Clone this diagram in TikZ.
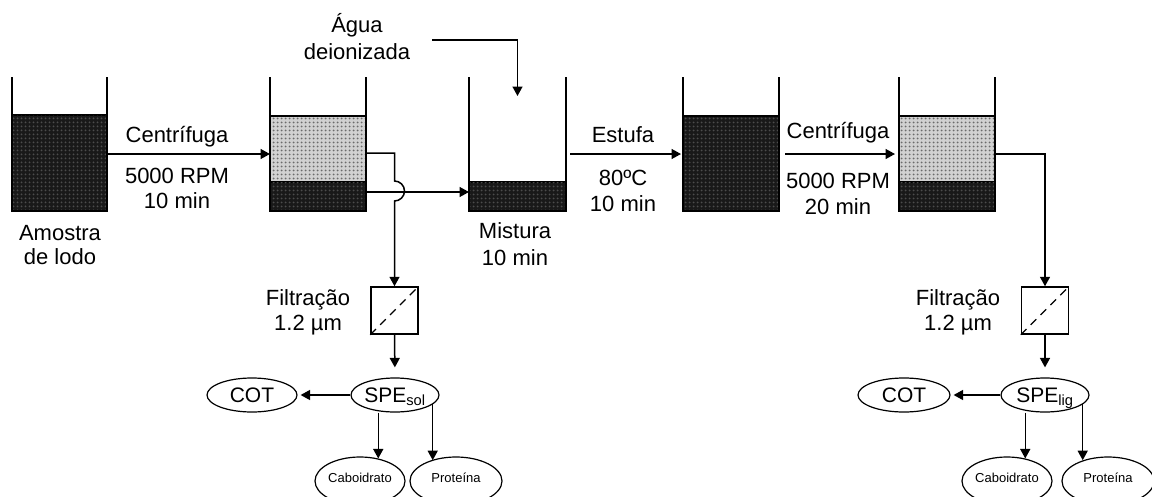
\documentclass[tikz,border=0pt]{standalone}
\usepackage{fontspec}
\setmainfont{Liberation Sans}
\usetikzlibrary{arrows.meta,patterns.meta,shapes.geometric}
\tikzdeclarepattern{name=bigdots, type=uncolored,
  bottom left={(-0.5pt,-0.5pt)}, top right={(3.5pt,3.5pt)},
  tile size={(4pt,4pt)},
  code={\fill (1.5pt,1.5pt) circle (1pt);}}
\begin{document}
\begin{tikzpicture}[x=1pt,y=-1pt,
  lbl/.style={anchor=base, inner sep=0pt, font=\fontsize{22}{26}\selectfont},
  box/.style={rectangle, inner sep=0pt, outer sep=0pt},
  darkfill/.style={box, draw, line width=1.5pt, fill=black!90, postaction={pattern=bigdots, pattern color=black!70}},
  lightfill/.style={box, draw, line width=1.5pt, fill=black!18, postaction={pattern=bigdots, pattern color=black!58}},
  beaker/.style={box, minimum height=134pt},
  wall/.style={line width=1.5pt},
  arr/.style={line width=1.5pt, -{Triangle[length=9.5pt,width=10pt]}},
  filterbox/.style={rectangle, draw, line width=1.5pt, minimum width=47pt, minimum height=47pt, inner sep=0pt},
  bigell/.style={ellipse, draw, line width=1.2pt, inner sep=0pt, minimum height=34pt, text height=15pt, text depth=1pt, font=\fontsize{21}{24}\selectfont},
  smallell/.style={ellipse, draw, line width=1.2pt, inner sep=0pt, minimum height=48pt, text height=10pt, text depth=8pt, font=\fontsize{13}{15}\selectfont},
]
\useasboundingbox (0,0) rectangle (1152,496);

% beaker frames (invisible)
\node[beaker, minimum width=95pt] (w1) at (59.5,144) {};
\node[beaker, minimum width=96pt] (w2) at (318,144) {};
\node[beaker, minimum width=97pt] (w3) at (517.5,144) {};
\node[beaker, minimum width=96pt] (w4) at (731,144) {};
\node[beaker, minimum width=96pt] (w5) at (947,144) {};

% contents
\node[darkfill, minimum width=95pt, minimum height=96pt] (b1d) at (59.5,163) {};
\node[lightfill, minimum width=96pt, minimum height=66pt] (b2l) at (318,149) {};
\node[darkfill, minimum width=96pt, minimum height=29pt] (b2d) at (318,196.5) {};
\node[darkfill, minimum width=97pt, minimum height=29pt] (b3d) at (517.5,196.5) {};
\node[darkfill, minimum width=96pt, minimum height=95pt] (b4d) at (731,163.5) {};
\node[lightfill, minimum width=96pt, minimum height=66pt] (b5l) at (947,149) {};
\node[darkfill, minimum width=96pt, minimum height=29pt] (b5d) at (947,196.5) {};

% walls
\foreach \w in {w1,w2,w3,w4,w5}{
  \draw[wall] (\w.north west) -- (\w.south west) -- (\w.south east) -- (\w.north east);
}

% labels
\node[lbl] (t1) at (177,142) {Centrífuga};
\node[lbl] (t2) at (177,183) {5000 RPM};
\node[lbl] (t3) at (177,208) {10 min};
\node[lbl] (t4) at (60,240) {Amostra};
\node[lbl] (t5) at (60,264) {de lodo};
\node[lbl] (agua1) at (357,32) {Água};
\node[lbl] (agua2) at (357,59) {deionizada};
\node[lbl] (t6) at (515,238) {Mistura};
\node[lbl] (t7) at (515,265) {10 min};
\node[lbl] (t8) at (623,142) {Estufa};
\node[lbl] (t9) at (623,185) {80ºC};
\node[lbl] (t10) at (623,211) {10 min};
\node[lbl] (t11) at (838,138) {Centrífuga};
\node[lbl] (t12) at (838,188) {5000 RPM};
\node[lbl] (t13) at (838,214) {20 min};
\node[lbl] (t14) at (308,305) {Filtração};
\node[lbl] (t15) at (308,330) {1.2 µm};
\node[lbl] (t16) at (958,305) {Filtração};
\node[lbl] (t17) at (958,330) {1.2 µm};

% filters
\node[filterbox] (f1) at (394.5,310.5) {};
\node[filterbox] (f2) at (1045,310.5) {};
\draw[line width=1.2pt, dash pattern=on 8pt off 6pt] (f1.south west) -- (f1.north east);
\draw[line width=1.2pt, dash pattern=on 8pt off 6pt] (f2.south west) -- (f2.north east);

% analysis ellipses
\node[bigell, minimum width=88pt] (spe1) at (395,395) {SPE\textsubscript{sol}};
\node[bigell, minimum width=90pt] (cot1) at (252,395) {COT};
\node[smallell, minimum width=90pt] (cab1) at (360,481) {Caboidrato};
\node[smallell, minimum width=92pt] (pro1) at (456,481) {Proteína};
\node[bigell, minimum width=88pt] (spe2) at (1045,395) {SPE\textsubscript{lig}};
\node[bigell, minimum width=92pt] (cot2) at (904,395) {COT};
\node[smallell, minimum width=90pt] (cab2) at (1007,481) {Caboidrato};
\node[smallell, minimum width=92pt] (pro2) at (1108,481) {Proteína};

% connectors along the top
\draw[arr] (w1.east |- 0,154) -- (w2.west |- 0,154);
\draw[arr, shorten <=4pt, shorten >=2pt] (w3.east |- 0,154) -- (w4.west |- 0,154);
\draw[arr, shorten <=6pt, shorten >=4pt] (w4.east |- 0,154) -- (w5.west |- 0,154);

\coordinate (aguasrc) at (432,40);
\coordinate (aguain) at (517.5,96);
\draw[arr] (aguasrc) -| (aguain);

% beaker 2 outlets
\draw[arr] (b2l.east |- 0,153) -- (f1.north |- 0,153) -- (f1.north |- 0,181)
   arc[start angle=90, end angle=-90, radius=10pt] -- (f1.north);
\draw[arr] (b2d.east |- 0,192) -- (w3.west |- 0,192);

% beaker 5 outlet
\draw[arr] (b5l.east |- 0,154) -- (f2.north |- 0,154) -- (f2.north);

% filter to SPE
\draw[arr, shorten >=10pt] (f1.south) -- (spe1.north);
\draw[arr, shorten >=10pt] (f2.south) -- (spe2.north);

% SPE branches
\draw[arr, shorten >=3pt] (spe1.west) -- (cot1.east);
\draw[arr] (cab1.51 |- spe1.south) -- (cab1.51);
\draw[arr] (spe1.-14) -- (spe1.-14 |- pro1.140);
\draw[arr, shorten >=3pt] (spe2.west) -- (cot2.east);
\draw[arr] (cab2.51 |- spe2.south) -- (cab2.51);
\draw[arr] (spe2.-14) -- (spe2.-14 |- pro2.140);
\end{tikzpicture}
\end{document}
